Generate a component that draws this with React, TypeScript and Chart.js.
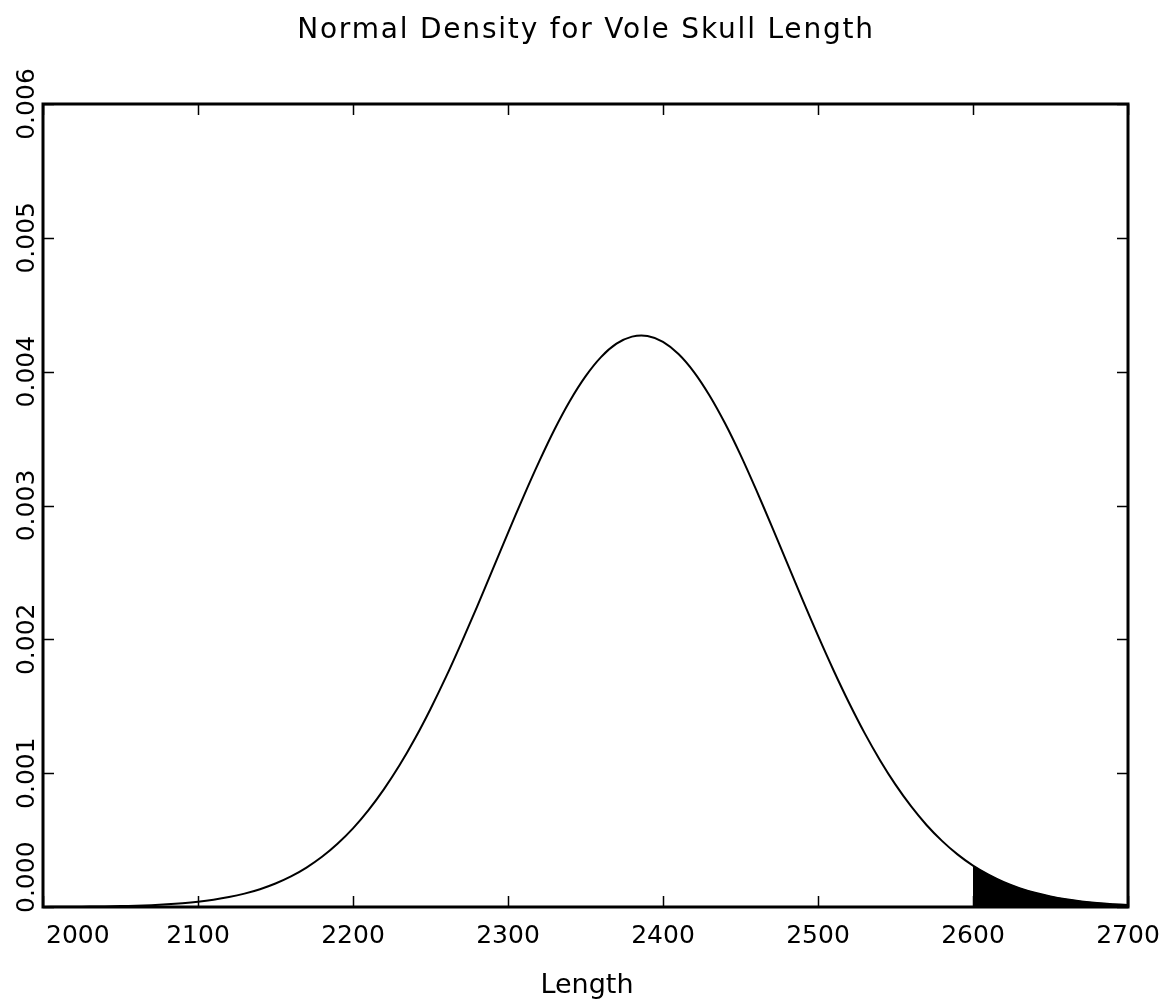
import React, { useEffect, useRef } from "react";
import { Chart, registerables } from "chart.js";

Chart.register(...registerables);

const TITLE = "Normal Density for Vole Skull Length";
const X_TITLE = "Length";

const LENGTHS = [
  2000, 2010, 2020, 2030, 2040, 2050, 2060, 2070, 2080, 2090,
  2100, 2110, 2120, 2130, 2140, 2150, 2160, 2170, 2180, 2190,
  2200, 2210, 2220, 2230, 2240, 2250, 2260, 2270, 2280, 2290,
  2300, 2310, 2320, 2330, 2340, 2350, 2360, 2370, 2380, 2390,
  2400, 2410, 2420, 2430, 2440, 2450, 2460, 2470, 2480, 2490,
  2500, 2510, 2520, 2530, 2540, 2550, 2560, 2570, 2580, 2590,
  2600, 2610, 2620, 2630, 2640, 2650, 2660, 2670, 2680, 2690,
  2700,
];

const DENSITY = [
  0.0000008, 0.0000013, 0.0000020, 0.0000030, 0.0000045, 0.0000066, 0.0000097, 0.0000140, 0.0000199, 0.0000282,
  0.0000393, 0.0000543, 0.0000740, 0.0000999, 0.0001330, 0.0001755, 0.0002285, 0.0002947, 0.0003750, 0.0004724,
  0.0005877, 0.0007240, 0.0008810, 0.0010584, 0.0012587, 0.0014800, 0.0017190, 0.0019760, 0.0022430, 0.0025190,
  0.0027950, 0.0030670, 0.0033260, 0.0035680, 0.0037830, 0.0039650, 0.0041090, 0.0042090, 0.0042620, 0.0042670,
  0.0042230, 0.0041320, 0.0039970, 0.0038220, 0.0036140, 0.0033780, 0.0031200, 0.0028500, 0.0025740, 0.0022970,
  0.0020270, 0.0017690, 0.0015260, 0.0013010, 0.0010970, 0.0009140, 0.0007530, 0.0006130, 0.0004940, 0.0003930,
  0.0003090, 0.0002410, 0.0001851, 0.0001408, 0.0001058, 0.0000786, 0.0000578, 0.0000420, 0.0000301, 0.0000214,
  0.0000150,
];

const SHADE_FROM = 2600;

const X_TICKS = [2000, 2100, 2200, 2300, 2400, 2500, 2600, 2700];
const X_TICK_LABELS = ["2000", "2100", "2200", "2300", "2400", "2500", "2600", "2700"];
const Y_TICKS = [0, 0.001, 0.002, 0.003, 0.004, 0.005, 0.006];
const Y_TICK_LABELS = ["0.000", "0.001", "0.002", "0.003", "0.004", "0.005", "0.006"];

const FONT = "'DejaVu Sans', 'Liberation Sans', sans-serif";

const framePlugin = {
  id: "frame",
  afterDatasetsDraw(chart: any) {
    const ctx = chart.ctx as CanvasRenderingContext2D;
    const { left, right, top, bottom } = chart.chartArea;
    const xs = chart.scales.x;
    const ys = chart.scales.y;
    ctx.save();
    ctx.strokeStyle = "#000";
    ctx.lineWidth = 1.5;
    ctx.beginPath();
    X_TICKS.forEach((v) => {
      const px = Math.round(xs.getPixelForValue(v)) + 0.5;
      ctx.moveTo(px, bottom);
      ctx.lineTo(px, bottom - 11);
      ctx.moveTo(px, top);
      ctx.lineTo(px, top + 11);
    });
    Y_TICKS.forEach((v) => {
      const py = Math.round(ys.getPixelForValue(v)) + 0.5;
      ctx.moveTo(left, py);
      ctx.lineTo(left + 11, py);
      ctx.moveTo(right, py);
      ctx.lineTo(right - 11, py);
    });
    ctx.stroke();
    ctx.lineWidth = 3;
    ctx.strokeRect(left, top, right - left, bottom - top);
    ctx.restore();
  },
  afterDraw(chart: any) {
    const ctx = chart.ctx as CanvasRenderingContext2D;
    const { left } = chart.chartArea;
    const xs = chart.scales.x;
    const ys = chart.scales.y;
    ctx.save();
    ctx.fillStyle = "#000";
    ctx.font = `28px ${FONT}`;
    (ctx as any).letterSpacing = "1.8px";
    ctx.textAlign = "center";
    ctx.textBaseline = "alphabetic";
    ctx.fillText(TITLE, 586, 38);
    (ctx as any).letterSpacing = "0px";
    ctx.font = `27px ${FONT}`;
    ctx.fillText(X_TITLE, 587, 993);
    ctx.font = `25px ${FONT}`;
    X_TICKS.forEach((v, i) => {
      const px = xs.getPixelForValue(v);
      if (i === 0) {
        ctx.textAlign = "left";
        ctx.fillText(X_TICK_LABELS[i], left + 3, 943);
      } else {
        ctx.textAlign = "center";
        ctx.fillText(X_TICK_LABELS[i], px, 943);
      }
    });
    Y_TICKS.forEach((v, i) => {
      const label = Y_TICK_LABELS[i];
      const w = ctx.measureText(label).width;
      let py = ys.getPixelForValue(v);
      py = Math.min(py, 913 - w / 2);
      ctx.save();
      ctx.translate(34, py);
      ctx.rotate(-Math.PI / 2);
      ctx.textAlign = "center";
      ctx.textBaseline = "alphabetic";
      ctx.fillText(label, 0, 0);
      ctx.restore();
    });
    ctx.restore();
  },
};

export default function App() {
  const ref = useRef<HTMLCanvasElement | null>(null);
  useEffect(() => {
    document.body.style.margin = "0";
    const canvas = ref.current;
    if (!canvas) return;
    const curve = LENGTHS.map((x, i) => ({ x, y: DENSITY[i] }));
    const shade = LENGTHS.map((x, i) => ({ x, y: DENSITY[i] })).filter((p) => p.x >= SHADE_FROM);
    const chart = new Chart(canvas, {
      type: "line",
      data: {
        datasets: [
          {
            data: shade,
            borderColor: "#000",
            backgroundColor: "#000",
            borderWidth: 1,
            pointRadius: 0,
            fill: "origin",
            tension: 0.3,
          },
          {
            data: curve,
            borderColor: "#000",
            borderWidth: 2,
            pointRadius: 0,
            fill: false,
            tension: 0.3,
          },
        ],
      },
      options: {
        responsive: false,
        animation: false,
        events: [],
        layout: { padding: { left: 43, top: 104, right: 34, bottom: 92 } },
        plugins: {
          legend: { display: false },
          title: { display: false },
          tooltip: { enabled: false },
        },
        scales: {
          x: { type: "linear", min: 2000, max: 2700, display: false },
          y: { type: "linear", min: 0, max: 0.006, display: false },
        },
      },
      plugins: [framePlugin],
    });
    return () => chart.destroy();
  }, []);
  return (
    <div style={{ position: "absolute", left: 0, top: 0, width: 1162, height: 999, background: "#fff" }}>
      <canvas ref={ref} width={1162} height={999} />
    </div>
  );
}
